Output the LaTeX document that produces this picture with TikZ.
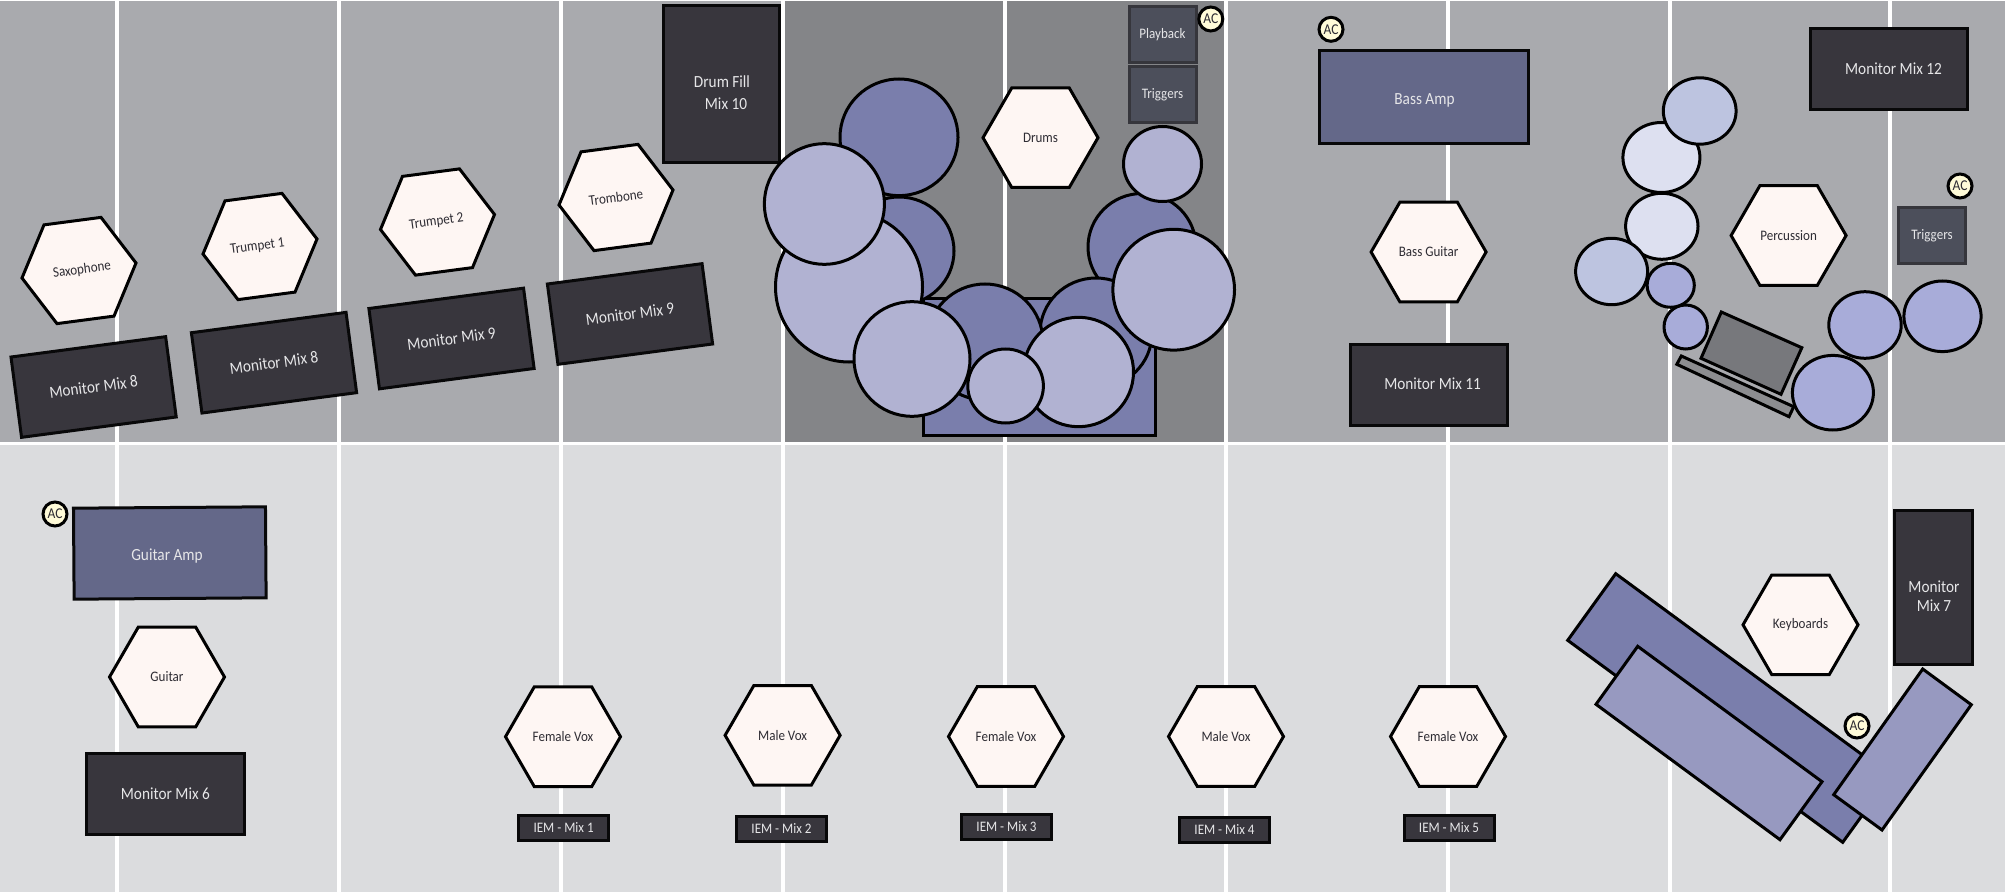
\documentclass[tikz,border=0pt]{standalone}
\usepackage{fontspec}
\setmainfont[FakeStretch=0.9]{Carlito}
\usetikzlibrary{shapes.geometric}
\definecolor{bandtop}{HTML}{A9AAAE}
\definecolor{banddrum}{HTML}{848588}
\definecolor{bandlow}{HTML}{DBDCDE}
\definecolor{boxdark}{HTML}{38363D}
\definecolor{boxamp}{HTML}{646889}
\definecolor{boxtrig}{HTML}{4C4F5B}
\definecolor{trigline}{HTML}{36363C}
\definecolor{hexfill}{HTML}{FEF6F3}
\definecolor{hextext}{HTML}{2E2C33}
\definecolor{lighttext}{HTML}{E6E6E8}
\definecolor{drumdark}{HTML}{7A7EAC}
\definecolor{drumlight}{HTML}{B1B2D2}
\definecolor{keylight}{HTML}{9799C0}
\definecolor{percA}{HTML}{BDC4E0}
\definecolor{percB}{HTML}{DDE0F0}
\definecolor{percC}{HTML}{A8ACD9}
\definecolor{percgray}{HTML}{77787C}
\definecolor{percstrip}{HTML}{8C8D90}
\definecolor{acfill}{HTML}{FFFBD8}
\newcommand{\fs}[1]{\fontsize{#1}{#1}\selectfont}
\tikzset{
  hexnode/.style={regular polygon,regular polygon sides=6,
    minimum size=115pt,inner sep=0pt,outer sep=0pt,draw=black,line width=3pt,fill=hexfill,
    text=hextext,font=\fs{14.5}},
  dkbox/.style={rectangle,inner sep=0pt,outer sep=0pt,draw=black!85!boxdark,line width=3pt,fill=boxdark,
    text=lighttext,font=\fs{17}},
  ampbox/.style={dkbox,fill=boxamp},
  trigbox/.style={rectangle,inner sep=0pt,outer sep=0pt,draw=trigline,line width=3pt,fill=boxtrig,
    text=lighttext,font=\fs{14.5}},
  iem/.style={dkbox,minimum width=90pt,minimum height=25pt,font=\fs{14.5}},
  lab/.style={inner sep=0pt,outer sep=0pt,text=lighttext,font=\fs{17},align=center},
  acnode/.style={circle,minimum size=24pt,inner sep=0pt,outer sep=0pt,draw=black,line width=3pt,
    fill=acfill,text=hextext,font=\fs{15}},
  shp/.style={draw=black,line width=3pt,line join=miter},
  rule/.style={draw=white,line width=3.4pt}
}
\newcommand{\blob}[5]{\path[shp,fill=#5] (#1,#2) ellipse [x radius=#3pt,y radius=#4pt];}
\begin{document}
\begin{tikzpicture}[x=1pt,y=-1pt]
\useasboundingbox (0,0) rectangle (2005,893);
\fill[white] (0,0) rectangle (2005,893);
% bands
\fill[bandtop] (0,1) rectangle (2005,442);
\fill[banddrum] (784,1) rectangle (1226,442);
\fill[bandlow] (0,445) rectangle (2005,892);
% stage grid
\foreach \gx in {117,339,561,783,1005,1226,1448,1670,1890}
  \draw[rule] (\gx,1) -- (\gx,892);
\draw[draw=white,line width=3pt] (0,443.5) -- (2005,443.5);

% rear rank monitors and players
\node[dkbox,minimum width=156pt,minimum height=81pt,rotate=7.5] (mon8a) at (93.6,387) {\raisebox{-2pt}{Monitor Mix 8}};
\node[dkbox,minimum width=156pt,minimum height=81pt,rotate=7.5] (mon8b) at (274,362.7) {\raisebox{-1pt}{Monitor Mix 8}};
\node[dkbox,minimum width=156pt,minimum height=81pt,rotate=7.5] (mon9a) at (451.5,338.5) {\raisebox{-1pt}{Monitor Mix 9}};
\node[dkbox,minimum width=156pt,minimum height=81pt,rotate=7.5] (mon9b) at (630,314) {Monitor Mix 9};
\node[hexnode,rotate=7.5] (sax) at (79,270.5) {\hspace*{6pt}Saxophone};
\node[hexnode,rotate=7.5] (tpa) at (260,246.5) {\raisebox{-2.5pt}{Trumpet 1}\hspace*{5pt}};
\node[hexnode,rotate=7.5] (tpb) at (437.5,222) {\raisebox{-1pt}{Trumpet 2}\hspace*{2pt}};
\node[hexnode,rotate=7.5] (tbn) at (616,197.5) {Trombone};

\node[dkbox,minimum width=116pt,minimum height=157pt] (fillbox) at (721,84.5) {};
\node[lab] (filla) at (722,82) {Drum Fill};
\node[lab] (fillb) at (726,104) {Mix 10};

% drum kit
\draw[shp,fill=drumdark] (923.7,299) rectangle (1155.7,435);
\blob{899}{251}{55}{54}{drumdark}
\blob{899}{137.3}{59}{58.3}{drumdark}
\blob{1142}{247}{54}{53.5}{drumdark}
\blob{1096}{333}{56}{55}{drumdark}
\blob{985}{342}{58}{58}{drumdark}
\blob{849}{287}{73.5}{75}{drumlight}
\blob{824.4}{204}{60}{60.3}{drumlight}
\blob{912}{359}{58}{57.3}{drumlight}
\blob{1078.5}{372}{55}{54.7}{drumlight}
\blob{1005.6}{386}{37.8}{37}{drumlight}
\blob{1162.5}{164}{39}{37.5}{drumlight}
\blob{1173.7}{289.7}{60.8}{60.4}{drumlight}
\node[hexnode] (drums) at (1040.5,137.7) {Drums};
\node[trigbox,minimum width=67pt,minimum height=56pt] (play) at (1162.5,35) {\raisebox{-1pt}{Playback}};
\node[trigbox,minimum width=67pt,minimum height=56pt] (trga) at (1162.5,95) {\raisebox{-1pt}{Triggers}};
\node[acnode] (aca) at (1210.8,19) {AC};

% bass
\node[acnode] (acb) at (1331,29.3) {AC};
\node[ampbox,minimum width=209pt,minimum height=93pt] (bassamp) at (1423.5,97.3) {};
\node[lab] (bassamplab) at (1424.5,100) {Bass Amp};
\node[hexnode] (bass) at (1428.6,252) {Bass Guitar};
\node[dkbox,minimum width=157pt,minimum height=81pt] (mon11box) at (1428.6,384.5) {};
\node[lab] (mon11) at (1432.6,383.3) {Monitor Mix 11};

% percussion
\node[dkbox,minimum width=157pt,minimum height=81pt] (mon12box) at (1889.3,69.5) {};
\node[lab] (mon12) at (1893.5,68.3) {Monitor Mix 12};
\blob{1661.4}{157.5}{38.5}{35}{percB}
\blob{1699.7}{111}{36.4}{33.2}{percA}
\blob{1661.8}{226.3}{36.2}{33}{percB}
\blob{1611.6}{271.5}{36}{33.2}{percA}
\blob{1670.7}{285.3}{23.6}{22}{percC}
\blob{1685.7}{327}{21.7}{22}{percC}
\blob{1865}{325}{36.2}{33.3}{percC}
\blob{1942.5}{316.3}{38.6}{35.3}{percC}
\draw[shp,fill=percgray] (1721.3,312) -- (1801.8,347.7) -- (1781,394.3) -- (1701,358.3) -- cycle;
\draw[shp,fill=percstrip] (1681.3,356) -- (1793.7,406.7) -- (1789,416.7) -- (1676.8,364.3) -- cycle;
\blob{1832.9}{392.7}{40.5}{37.3}{percC}
\node[hexnode] (perc) at (1788.6,235.5) {Percussion};
\node[trigbox,minimum width=67pt,minimum height=56pt] (trgb) at (1932,235.5) {Triggers};
\node[acnode] (acc) at (1960,186) {AC};

% guitar
\node[acnode] (acd) at (55,514) {AC};
\node[ampbox,minimum width=192pt,minimum height=91pt,rotate=0.4] (gtramp) at (169.8,553) {};
\node[lab] (gtramplab) at (167,556) {Guitar Amp};
\node[hexnode] (gtr) at (167,677) {Guitar};
\node[dkbox,minimum width=157.5pt,minimum height=81pt] (mon6) at (165.4,794) {Monitor Mix 6};

% vocals
\node[hexnode] (voxa) at (563,736.7) {Female Vox};
\node[hexnode] (voxb) at (782.6,735.3) {Male Vox};
\node[hexnode] (voxc) at (1006,736.5) {Female Vox};
\node[hexnode] (voxd) at (1226,736.5) {Male Vox};
\node[hexnode] (voxe) at (1448,736.5) {Female Vox};
\node[iem] (iema) at (563.6,828) {IEM - Mix 1};
\node[iem] (iemb) at (781.5,828.5) {IEM - Mix 2};
\node[iem] (iemc) at (1006.5,827) {IEM - Mix 3};
\node[iem] (iemd) at (1224.5,830) {IEM - Mix 4};
\node[iem] (ieme) at (1449,827.5) {IEM - Mix 5};

% keyboards
\draw[shp,fill=drumdark] (1615.7,573.7) -- (1890.7,775.7) -- (1842.7,842.3) -- (1567.7,640.3) -- cycle;
\draw[shp,fill=keylight] (1637.7,646.3) -- (1822,781.7) -- (1780,839.7) -- (1596,704.3) -- cycle;
\draw[shp,fill=keylight] (1922.7,669) -- (1971.3,704.7) -- (1882,830) -- (1833.7,794.7) -- cycle;
\node[hexnode] (keys) at (1800.5,624.8) {Keyboards};
\node[dkbox,minimum width=77.5pt,minimum height=154.5pt] (mon7box) at (1933.5,587.7) {};
\node[lab] (mon7) at (1934,596) {Monitor\\[2pt]Mix 7};
\node[acnode] (ace) at (1857,726) {AC};
\end{tikzpicture}
\end{document}
